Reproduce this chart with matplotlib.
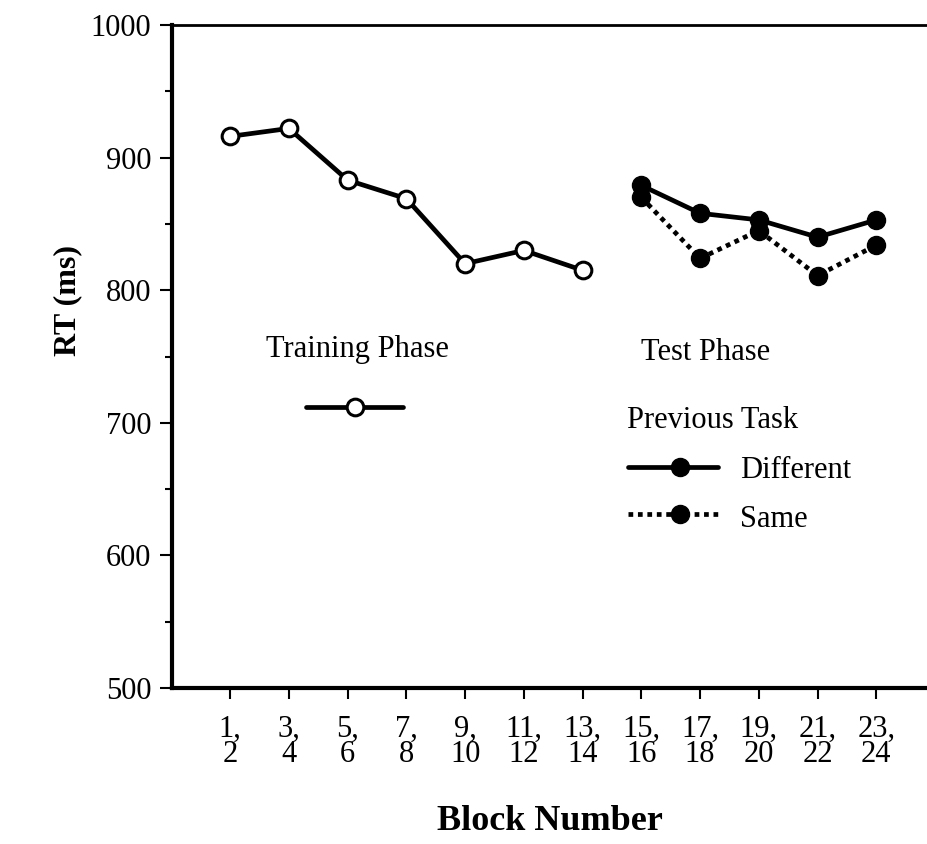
import matplotlib
matplotlib.use("Agg")
import matplotlib.pyplot as plt
from matplotlib.ticker import MultipleLocator

plt.rcParams['font.family'] = ['Liberation Serif', 'DejaVu Serif']

tick_labels = ["1,\n2", "3,\n4", "5,\n6", "7,\n8", "9,\n10", "11,\n12", "13,\n14",
               "15,\n16", "17,\n18", "19,\n20", "21,\n22", "23,\n24"]
training_rt = [916, 922, 883, 869, 820, 830, 815]
different_rt = [879, 858, 853, 840, 853]
same_rt = [870, 824, 845, 811, 834]

FS = 22
LW = 3.4

fig = plt.figure(figsize=(9.28, 8.44), dpi=100)
ax = fig.add_axes([172/928, 1-688/844, 1-172/928, (688-25)/844])

x_train = list(range(len(training_rt)))
x_test = list(range(len(training_rt), len(training_rt) + len(different_rt)))

ax.plot(x_train, training_rt, color='black', lw=LW, marker='o', ms=12,
        mfc='white', mec='black', mew=2.2, zorder=3)
ax.plot(x_test, same_rt, color='black', lw=LW, ls=(0, (1, 1)), marker='o', ms=13,
        mfc='black', mec='black', zorder=3)
ax.plot(x_test, different_rt, color='black', lw=LW, marker='o', ms=13,
        mfc='black', mec='black', zorder=4)

ax.set_ylim(500, 1000)
ax.set_xlim(-0.99, 11.88)
ax.set_xticks(range(len(tick_labels)))
ax.set_xticklabels(tick_labels, fontsize=FS, linespacing=0.85)
ax.yaxis.set_major_locator(MultipleLocator(100))
ax.yaxis.set_minor_locator(MultipleLocator(50))
ax.tick_params(axis='y', which='major', direction='out', length=9, width=1.5,
               labelsize=FS, pad=6)
ax.tick_params(axis='y', which='minor', direction='out', length=5, width=1.5)
ax.tick_params(axis='x', which='major', direction='out', length=8, width=1.5,
               pad=11)

ax.spines['right'].set_visible(False)
ax.spines['left'].set_linewidth(3)
ax.spines['bottom'].set_linewidth(3)
ax.spines['top'].set_linewidth(2)

ax.set_ylabel("RT (ms)", fontsize=23, fontweight='bold')
ax.yaxis.set_label_coords(-0.1376, 0.585)
ax.yaxis.label.set_verticalalignment('center')
ax.set_xlabel("Block Number", fontsize=26, fontweight='bold', labelpad=26)

# Annotation / legend elements (in data coordinates)
ax.text(2.16, 755, "Training Phase", fontsize=FS, ha='center', va='center')
ax.plot([1.29, 2.95], [712, 712], color='black', lw=LW, solid_capstyle='round')
ax.plot([2.13], [712], marker='o', ms=12, mfc='white', mec='black', mew=2.2)

ax.text(8.1, 753, "Test Phase", fontsize=FS, ha='center', va='center')
ax.text(6.76, 702, "Previous Task", fontsize=FS, ha='left', va='center')
ax.plot([6.78, 8.31], [667, 667], color='black', lw=LW, solid_capstyle='round')
ax.plot([7.65], [667], marker='o', ms=13, mfc='black', mec='black')
ax.text(8.68, 664, "Different", fontsize=FS, ha='left', va='center')
ax.plot([6.78, 8.31], [631, 631], color='black', lw=LW, ls=(0, (1, 1)))
ax.plot([7.65], [631], marker='o', ms=13, mfc='black', mec='black')
ax.text(8.68, 627, "Same", fontsize=FS, ha='left', va='center')

fig.savefig("out.png", dpi=100)
